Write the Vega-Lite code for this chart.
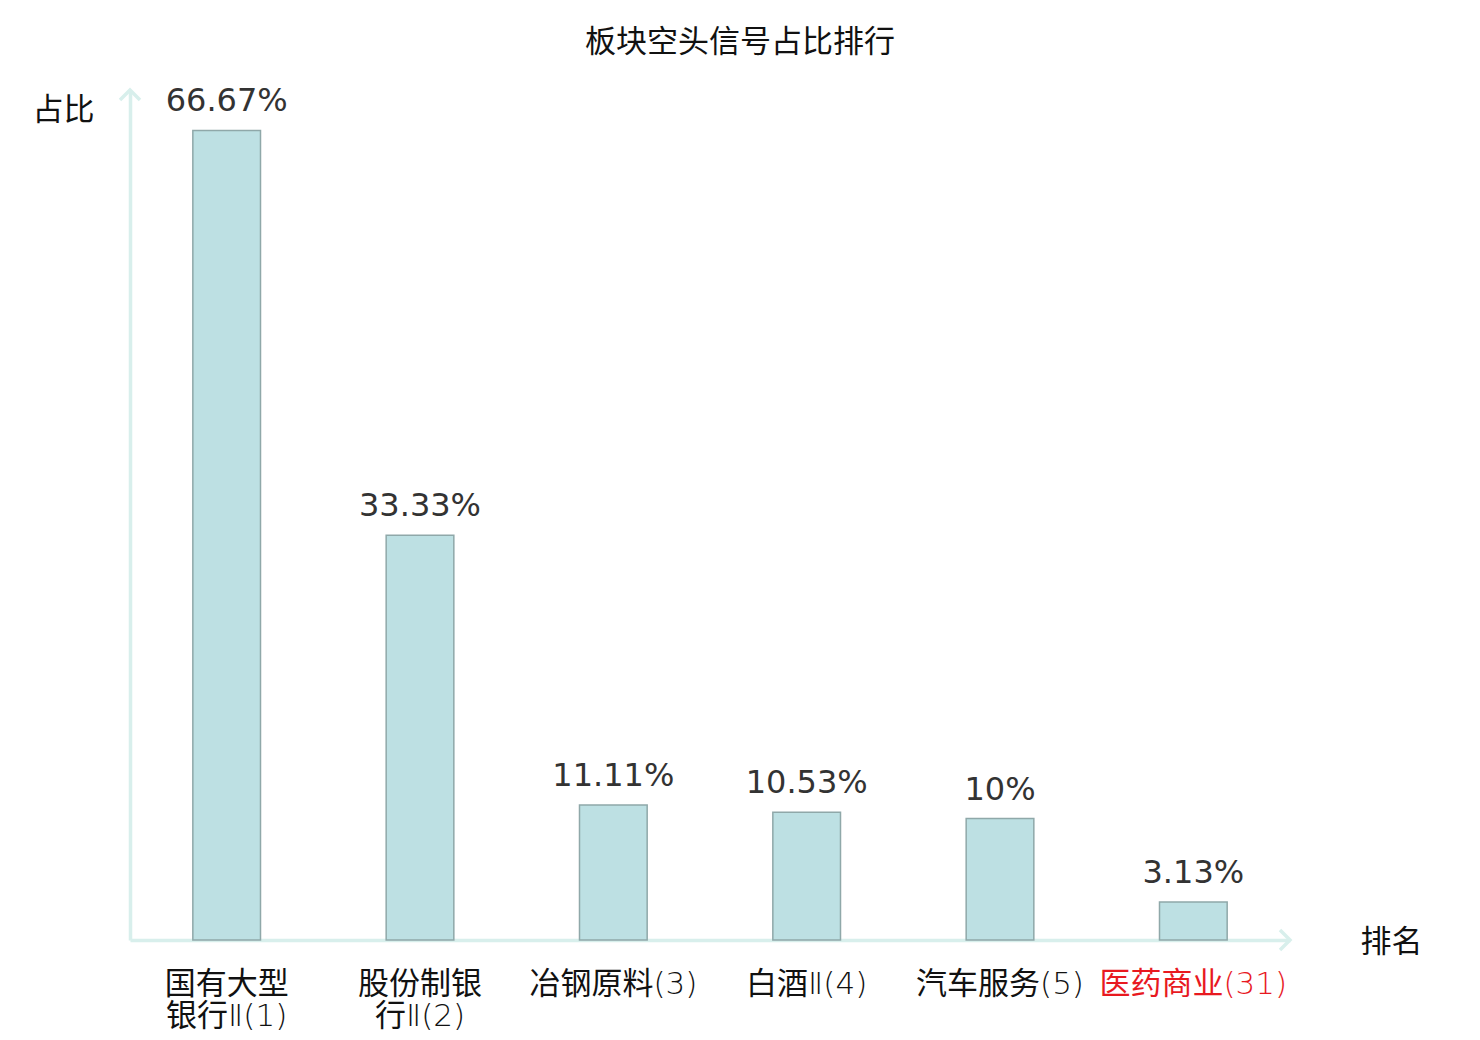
{
  "$schema": "https://vega.github.io/schema/vega-lite/v6.json",
  "autosize": "none",
  "width": 1160,
  "height": 850,
  "padding": {"left": 130, "top": 90, "right": 190, "bottom": 100},
  "background": "white",
  "view": {"stroke": null},
  "title": {
    "text": "板块空头信号占比排行",
    "font": "Noto Sans CJK SC",
    "fontSize": 31,
    "fontWeight": "normal",
    "color": "#111",
    "anchor": "middle",
    "frame": "group",
    "dx": 30,
    "offset": 24
  },
  "data": {
    "values": [
      {"name": "国有大型\n银行Ⅱ(1)", "pct": 66.67, "label": "66.67%"},
      {"name": "股份制银\n行Ⅱ(2)", "pct": 33.33, "label": "33.33%"},
      {"name": "冶钢原料(3)", "pct": 11.11, "label": "11.11%"},
      {"name": "白酒Ⅱ(4)", "pct": 10.53, "label": "10.53%"},
      {"name": "汽车服务(5)", "pct": 10, "label": "10%"},
      {"name": "医药商业(31)", "pct": 3.13, "label": "3.13%"}
    ]
  },
  "encoding": {
    "x": {
      "field": "name",
      "type": "nominal",
      "sort": null,
      "scale": {"paddingInner": 0.65, "paddingOuter": 0.325},
      "axis": {
        "title": "排名",
        "titleFont": "Noto Sans CJK SC",
        "titleFontSize": 31,
        "titleFontWeight": "normal",
        "titleColor": "#111",
        "titleX": 1261,
        "titleY": 2,
        "titleBaseline": "middle",
        "titleAlign": "center",
        "labelAngle": 0,
        "labelFont": "DejaVu Sans Light, Noto Sans CJK SC",
        "labelFontSize": 31,
        "labelLineHeight": 32,
        "labelPadding": 29,
        "labelLimit": 400,
        "labelColor": {"condition": {"test": "datum.value == '医药商业(31)'", "value": "#e8191f"}, "value": "#111"},
        "labelExpr": "split(datum.value, '\\n')",
        "ticks": false,
        "domainColor": "#d8efec",
        "domainWidth": 3.5,
        "labelOverlap": false
      }
    },
    "y": {
      "field": "pct",
      "type": "quantitative",
      "scale": {"domain": [0, 70]},
      "axis": {
        "title": "占比",
        "titleFont": "Noto Sans CJK SC",
        "titleFontSize": 31,
        "titleFontWeight": "normal",
        "titleColor": "#111",
        "titleAngle": 0,
        "titleX": -67,
        "titleY": 20,
        "titleAlign": "center",
        "titleBaseline": "middle",
        "labels": false,
        "ticks": false,
        "grid": false,
        "domainColor": "#d8efec",
        "domainWidth": 3.5
      }
    }
  },
  "layer": [
    {
      "mark": {"type": "bar", "fill": "#bde0e3", "stroke": "#8fa8a9", "strokeWidth": 1.5}
    },
    {
      "mark": {"type": "text", "dy": -12, "baseline": "bottom", "font": "DejaVu Sans", "fontSize": 32, "color": "#333"},
      "encoding": {"text": {"field": "label"}}
    },
    {
      "data": {"values": [{"axis": "y"}]},
      "mark": {"type": "point", "shape": "M-1,1L0,0L1,1", "filled": false, "stroke": "#d8efec", "strokeWidth": 3.5, "size": 400, "opacity": 1},
      "encoding": {
        "x": {"value": 0},
        "y": {"value": 0}
      }
    },
    {
      "data": {"values": [{"axis": "x"}]},
      "mark": {"type": "point", "shape": "M-1,-1L0,0L-1,1", "filled": false, "stroke": "#d8efec", "strokeWidth": 3.5, "size": 400, "opacity": 1},
      "encoding": {
        "x": {"value": "width"},
        "y": {"value": "height"}
      }
    }
  ]
}
